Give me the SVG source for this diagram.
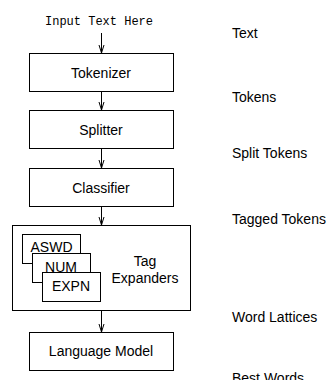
<svg xmlns="http://www.w3.org/2000/svg" width="332" height="380" viewBox="0 0 332 380">
<defs>
<style>
.box{fill:#fff;stroke:#000;stroke-width:1}
.t{font-family:"Liberation Sans",Arial,sans-serif;font-size:14px;fill:#000}
.c{text-anchor:middle}
.m{font-family:"Liberation Mono","Courier New",monospace;font-size:12px;fill:#000;text-anchor:middle}
.ln{stroke:#000;stroke-width:1;fill:none}
</style>
<marker id="ah" markerWidth="8" markerHeight="10" refX="8" refY="3" orient="auto" markerUnits="userSpaceOnUse" viewBox="0 0 8 6" overflow="visible">
<path d="M0,0.5 L8,3 L0,5.5" fill="none" stroke="#000" stroke-width="1"/>
</marker>
</defs>
<rect width="332" height="380" fill="#fff"/>
<g id="input"><text class="m" x="99" y="25">Input Text Here</text></g>
<g id="tokenizer"><rect class="box" x="29.5" y="53.5" width="144" height="38"/><text class="t c" x="101" y="78">Tokenizer</text></g>
<g id="splitter"><rect class="box" x="29.5" y="110.5" width="144" height="38"/><text class="t c" x="101" y="135">Splitter</text></g>
<g id="classifier"><rect class="box" x="29.5" y="168.5" width="144" height="38"/><text class="t c" x="101" y="193">Classifier</text></g>
<g id="tagexpanders"><rect class="box" x="12.5" y="225.5" width="178" height="85"/>
<text class="t c" x="145" y="266">Tag</text><text class="t c" x="145" y="283">Expanders</text></g>
<g id="aswd"><rect class="box" x="22.5" y="234.5" width="58" height="29"/><text class="t c" x="51.5" y="252">ASWD</text></g>
<g id="num"><rect class="box" x="32.5" y="253.5" width="58" height="29"/><text class="t c" x="61" y="272">NUM</text></g>
<g id="expn"><rect class="box" x="42.5" y="272.5" width="58" height="29"/><text class="t c" x="71" y="291">EXPN</text></g>
<g id="langmodel"><rect class="box" x="29.5" y="332.5" width="144" height="38"/><text class="t c" x="101" y="356">Language Model</text></g>
<g id="connectors">
<line class="ln" x1="101.5" y1="33" x2="101.5" y2="53" marker-end="url(#ah)"/>
<line class="ln" x1="101.5" y1="91.5" x2="101.5" y2="110" marker-end="url(#ah)"/>
<line class="ln" x1="101.5" y1="148.5" x2="101.5" y2="168" marker-end="url(#ah)"/>
<line class="ln" x1="101.5" y1="206.5" x2="101.5" y2="225" marker-end="url(#ah)"/>
<line class="ln" x1="101.5" y1="310.5" x2="101.5" y2="332" marker-end="url(#ah)"/>
</g>
<g id="labels">
<text class="t" x="232" y="38">Text</text>
<text class="t" x="232" y="102">Tokens</text>
<text class="t" x="232" y="158">Split Tokens</text>
<text class="t" x="232" y="224">Tagged Tokens</text>
<text class="t" x="232" y="322">Word Lattices</text>
<text class="t" x="232" y="383">Best Words</text>
</g>
</svg>
